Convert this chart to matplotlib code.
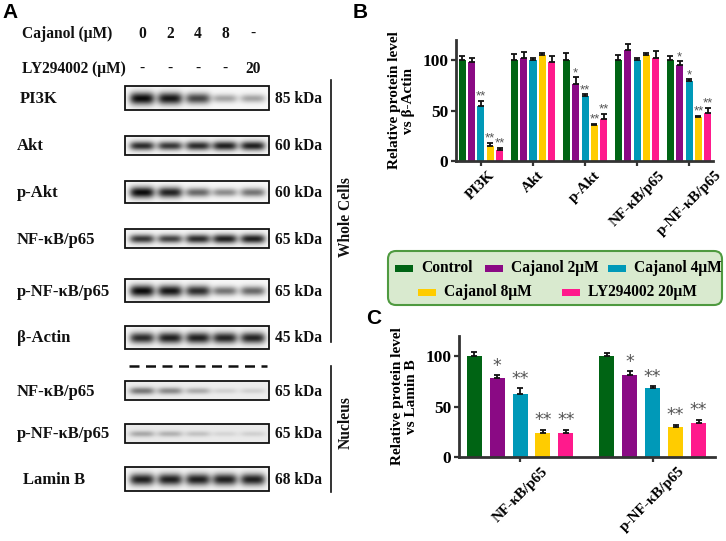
import numpy as np
import matplotlib.pyplot as plt
from matplotlib.patches import Rectangle, FancyBboxPatch

W, H = 726, 541
serif = 'Liberation Serif'

# --- data ---
groups_b = ['PI3K', 'Akt', 'p-Akt', 'NF-κB/p65', 'p-NF-κB/p65']
treatments = ['Control', 'Cajanol 2μM', 'Cajanol 4μM', 'Cajanol 8μM', 'LY294002 20μM']
colors = ['#006414', '#8a0a84', '#0099b8', '#ffcc00', '#ff1a8c']

# rows = treatments, cols = groups
b_mean = np.array([[100, 100, 100, 100, 100],
                   [98, 102, 76, 110, 95],
                   [55, 100, 64, 100, 79],
                   [15, 105, 36, 105, 44],
                   [11, 98, 42, 102, 48]])
b_err = np.array([[4, 6, 7, 5, 4],
                  [4, 6, 7, 6, 4],
                  [5, 2, 2, 2, 2],
                  [3, 2, 1, 2, 1],
                  [2, 6, 5, 7, 5]])
b_sig = [['', '', '', '', ''],
         ['', '', '*', '', '*'],
         ['**', '', '**', '', '*'],
         ['**', '', '**', '', '**'],
         ['**', '', '**', '', '**']]

groups_c = ['NF-κB/p65', 'p-NF-κB/p65']
c_mean = np.array([[100, 100],
                   [78, 81],
                   [62, 68],
                   [24, 30],
                   [24, 34]])
c_err = np.array([[4, 3],
                  [3, 4],
                  [6, 2],
                  [3, 2],
                  [3, 3]])
c_sig = [['', ''], ['*', '*'], ['**', '**'], ['**', '**'], ['**', '**']]

cajanol_doses = ['0', '2', '4', '8', '-']
ly_doses = ['-', '-', '-', '-', '20']
blot_names = ['PI3K', 'Akt', 'p-Akt', 'NF-κB/p65', 'p-NF-κB/p65', 'β-Actin',
              'NF-κB/p65', 'p-NF-κB/p65', 'Lamin B']
blot_kda = ['85 kDa', '60 kDa', '60 kDa', '65 kDa', '65 kDa', '45 kDa',
            '65 kDa', '65 kDa', '68 kDa']
band_int = [[1.0, 0.95, 0.75, 0.35, 0.35],
            [0.85, 0.8, 0.85, 0.9, 0.9],
            [1.0, 0.9, 0.6, 0.45, 0.55],
            [0.8, 0.75, 0.85, 0.9, 0.9],
            [1.0, 0.95, 0.85, 0.55, 0.6],
            [0.85, 0.9, 0.9, 0.88, 0.88],
            [0.5, 0.42, 0.28, 0.12, 0.12],
            [0.28, 0.24, 0.17, 0.09, 0.11],
            [0.9, 0.9, 0.9, 0.9, 0.9]]
blot_bg = [0.97, 0.96, 0.97, 0.96, 0.97, 0.96, 0.93, 0.92, 0.96]

# --- layout (pixels) ---
blot_top = [86, 136, 181, 229, 279, 326, 381, 424, 467]
blot_bot = [110, 155, 203, 248, 302, 349, 400, 443, 491]
label_x = [20, 17, 17, 17, 17, 17, 17, 17, 23]
box_x0, box_x1 = 125, 269
lane_x = [142, 170, 198, 225, 253]


def rect(x0, y0, x1, y1):
    return [x0 / W, 1 - y1 / H, (x1 - x0) / W, (y1 - y0) / H]


fig = plt.figure(figsize=(W / 100, H / 100), dpi=100)

# overlay for panel A and legend, pixel coordinates
ov = fig.add_axes([0, 0, 1, 1])
ov.set_xlim(0, W)
ov.set_ylim(H, 0)
ov.axis('off')

tkw = dict(family=serif, fontweight='bold', fontsize=11.2, color='#111111')

ov.text(2, 12, 'A', family='Liberation Sans', fontweight='bold', fontsize=15, va='center')
ov.text(353, 12, 'B', family='Liberation Sans', fontweight='bold', fontsize=15, va='center')
ov.text(366, 318, 'C', family='Liberation Sans', fontweight='bold', fontsize=15, va='center')

ov.text(22, 34, 'Cajanol (μM)', va='center', **tkw)
ov.text(22, 69, 'LY294002 (μM)', va='center', **tkw)
for x, d1, d2 in zip(lane_x, cajanol_doses, ly_doses):
    ov.text(x, 34, d1, ha='center', va='center', **tkw)
    ov.text(x, 69, d2, ha='center', va='center', **tkw)

xs = np.linspace(box_x0, box_x1, 300)
for k in range(len(blot_names)):
    y0, y1 = blot_top[k], blot_bot[k]
    ys = np.linspace(0, 1, 60)
    img = np.zeros((60, 300))
    for x, a in zip(lane_x, band_int[k]):
        hx = np.exp(-((xs - x) / 12.5) ** 4)
        s = 0.13 + 0.13 * a
        hy = np.exp(-((ys - 0.52) / s) ** 2)
        img += a * np.outer(hy, hx)
    img = blot_bg[k] - np.clip(img, 0, 1) * 0.93
    ov.imshow(img, cmap='gray', vmin=0, vmax=1, extent=(box_x0, box_x1, y1, y0),
              aspect='auto', interpolation='bilinear', zorder=1)
    ov.add_patch(Rectangle((box_x0, y0), box_x1 - box_x0, y1 - y0, fill=False,
                           lw=1.3, ec='#111111', zorder=2))
    yc = (y0 + y1) / 2
    ov.text(label_x[k], yc + 1, blot_names[k], va='center', family=serif,
            fontweight='bold', fontsize=12, color='#111111')
    ov.text(275, yc + 1, blot_kda[k], va='center', **tkw)

ov.plot([129, 267], [366, 366], color='#111111', lw=1.8, ls=(0, (4, 2.6)))
ov.plot([331, 331], [80, 342], color='#111111', lw=1.2)
ov.plot([331, 331], [366, 492], color='#111111', lw=1.2)
ov.text(346, 217, 'Whole Cells', rotation=90, ha='center', va='center', **tkw)
ov.text(346, 423, 'Nucleus', rotation=90, ha='center', va='center', **tkw)
ov.set_xlim(0, W)
ov.set_ylim(H, 0)

# legend box
ov.add_patch(FancyBboxPatch((388, 251), 334, 54, boxstyle='round,pad=0,rounding_size=8',
                            fc='#d9eacf', ec='#4f9a40', lw=1.5, zorder=1))
leg_pos = [(395, 268), (485, 268), (608, 268), (418, 292), (562, 292)]
for (x, y), lab, c in zip(leg_pos, treatments, colors):
    ov.add_patch(Rectangle((x, y - 3.5), 18, 7, fc=c, ec='none', zorder=2))
    ov.text(x + 26, y, lab, va='center', family=serif, fontweight='bold', fontsize=11.2)


def bar_panel(ax, groups, mean, err, sig, step, width, fs, gap, star_font):
    x = np.arange(len(groups))
    n = len(mean)
    for i in range(n):
        xi = x + (i - (n - 1) / 2) * step
        ax.bar(xi, mean[i], width, color=colors[i], zorder=2)
        ax.errorbar(xi, mean[i], yerr=[np.zeros(len(x)), err[i]], fmt='none',
                    ecolor='#111111', elinewidth=1.3, capsize=2.2,
                    capthick=1.3, zorder=3)
        for j in range(len(x)):
            if sig[i][j]:
                ax.text(xi[j], mean[i][j] + err[i][j] + gap, sig[i][j], ha='center',
                        va='bottom', color='#555555', fontsize=fs, family=star_font)
    ax.set_ylim(0, 120)
    ax.set_yticks([0, 50, 100])
    ax.set_xticks(x)
    ax.set_xticklabels(groups, rotation=45, ha='center',
                       family=serif, fontweight='bold', fontsize=11)
    for lab in ax.get_yticklabels():
        lab.set_family(serif)
        lab.set_fontweight('bold')
        lab.set_fontsize(12.5)
    for s in ['top', 'right']:
        ax.spines[s].set_visible(False)
    for s in ['left', 'bottom']:
        ax.spines[s].set_linewidth(2)
        ax.spines[s].set_color('#333333')
    ax.tick_params(width=1.6, length=3.5, color='#333333', pad=2)
    ax.set_facecolor('none')


axb = fig.add_axes(rect(456, 40, 713, 161))
bar_panel(axb, groups_b, b_mean, b_err, b_sig, 0.18, 0.135, 9.5, -2, 'Liberation Sans')
axb.set_xlim(-0.48, 4.46)
axb.set_ylabel('Relative protein level\nvs β-Actin', family=serif, fontweight='bold',
               fontsize=11, linespacing=1.1, labelpad=5)

axc = fig.add_axes(rect(459, 336, 715, 457))
bar_panel(axc, groups_c, c_mean, c_err, c_sig, 0.173, 0.113, 12.5, 0.5, 'DejaVu Sans')
axc.set_xlim(-0.46, 1.47)
axc.set_ylabel('Relative protein level\nvs Lamin B', family=serif, fontweight='bold',
               fontsize=11, linespacing=1.1, labelpad=5)

fig.savefig('out.png', dpi=100)
